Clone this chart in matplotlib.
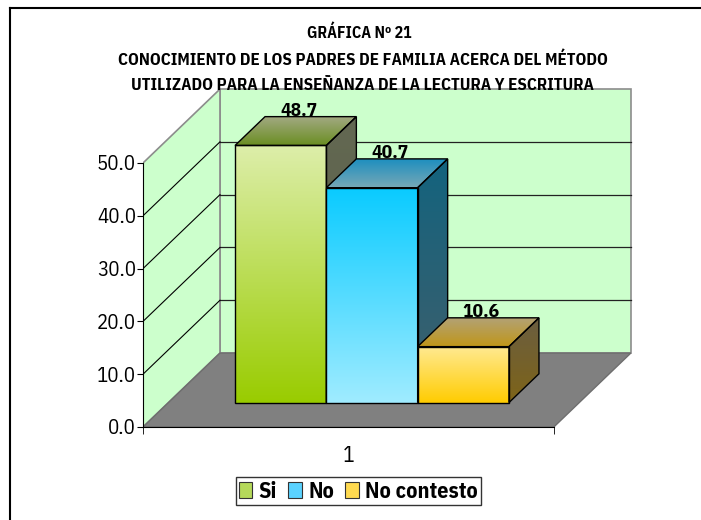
import numpy as np
import matplotlib
matplotlib.use('Agg')
import matplotlib.pyplot as plt
from matplotlib.patches import Polygon, Patch
from matplotlib.lines import Line2D
from matplotlib.colors import LinearSegmentedColormap

# datos
categorias = ['Si', 'No', 'No contesto']
valores = [48.7, 40.7, 10.6]
etiqueta_x = ['1']
ticks_y = [0, 10, 20, 30, 40, 50]

titulo = ['GRÁFICA Nº 21',
          'CONOCIMIENTO DE LOS PADRES DE FAMILIA ACERCA DEL MÉTODO',
          'UTILIZADO PARA LA ENSEÑANZA DE LA LECTURA Y ESCRITURA']

# colores (cara frontal arriba/abajo, cara superior fondo/frente, lateral arriba/abajo)
col_frente = [('#DDEEAA', '#99CC00'), ('#0ACBFF', '#A0ECFF'), ('#FFE990', '#FFCC00')]
col_arriba = [('#A3AA84', '#6B8E23'), ('#1E8FBF', '#78A8B6'), ('#B3A274', '#C09618')]
col_lado = [('#636852', '#5A6048'), ('#13637E', '#415F6B'), ('#6B5E40', '#7E6418')]
col_leyenda = ['#B5D95A', '#5AD2FF', '#FFDA50']

# fuente angosta parecida a Arial Narrow
plt.rcParams['font.family'] = ['IBM Plex Sans Condensed', 'Liberation Sans', 'DejaVu Sans']

fig = plt.figure(figsize=(7.01, 5.20), dpi=100)
ax = fig.add_axes([143 / 701, 93 / 520, 507 / 701, 347 / 520])
ax.patch.set_alpha(0)

# geometria del "3D"
ancho_piso = 4.5
dx, dy = 0.843, 14.0       # profundidad total
f1, f2 = 0.33, 0.72        # profundidad de las barras
x_ini = 0.73
ymax = ticks_y[-1]


def cara_degradada(verts, c_sup, c_inf, z):
    poly = Polygon(verts, closed=True, facecolor='none', edgecolor='black', lw=1, zorder=z + 0.5)
    ax.add_patch(poly)
    xs = [v[0] for v in verts]
    ys = [v[1] for v in verts]
    cmap = LinearSegmentedColormap.from_list('g', [c_inf, c_sup])
    grad = np.linspace(0, 1, 256).reshape(-1, 1)
    im = ax.imshow(grad, cmap=cmap, extent=[min(xs), max(xs), min(ys), max(ys)],
                   origin='lower', aspect='auto', zorder=z, interpolation='bilinear')
    im.set_clip_path(poly)


# paredes y piso
verde = '#CCFFCC'
gris = '#8C8C8C'
ax.add_patch(Polygon([(dx, dy), (ancho_piso + dx, dy), (ancho_piso + dx, ymax + dy), (dx, ymax + dy)],
                     facecolor=verde, edgecolor=gris, lw=1.2, zorder=1))
ax.add_patch(Polygon([(0, 0), (dx, dy), (dx, ymax + dy), (0, ymax)],
                     facecolor=verde, edgecolor=gris, lw=1.2, zorder=1))
ax.add_patch(Polygon([(0, 0), (ancho_piso, 0), (ancho_piso + dx, dy), (dx, dy)],
                     facecolor='#808080', edgecolor='#6E6E6E', lw=1, zorder=1.2))

for t in ticks_y[1:-1]:
    ax.plot([dx, ancho_piso + dx], [t + dy, t + dy], color='#222222', lw=0.9, zorder=1.1)
    ax.plot([0, dx], [t, t + dy], color='black', lw=0.8, zorder=1.1)

# barras
prof_x = (f2 - f1) * dx
prof_y = (f2 - f1) * dy
for i, (cat, v) in enumerate(zip(categorias, valores)):
    x0 = x_ini + i + f1 * dx
    y0 = f1 * dy
    z = 3 + i
    frente = [(x0, y0), (x0 + 1, y0), (x0 + 1, y0 + v), (x0, y0 + v)]
    arriba = [(x0, y0 + v), (x0 + 1, y0 + v), (x0 + 1 + prof_x, y0 + v + prof_y), (x0 + prof_x, y0 + v + prof_y)]
    lado = [(x0 + 1, y0), (x0 + 1 + prof_x, y0 + prof_y), (x0 + 1 + prof_x, y0 + v + prof_y), (x0 + 1, y0 + v)]
    cara_degradada(lado, col_lado[i][0], col_lado[i][1], z)
    cara_degradada(arriba, col_arriba[i][0], col_arriba[i][1], z + 0.1)
    cara_degradada(frente, col_frente[i][0], col_frente[i][1], z + 0.2)
    ax.annotate(f'{v:.1f}', (x0 + 0.5 + 0.6 * prof_x, y0 + v + prof_y), xytext=(0, 0.5),
                textcoords='offset points', ha='center', va='baseline',
                fontsize=14, fontweight='bold', zorder=10)

# ejes
ax.set_xlim(0, 507 / 91.3)
ax.set_ylim(0, 347 / 5.28)
for s in ['top', 'right']:
    ax.spines[s].set_visible(False)
ax.spines['left'].set_bounds(0, ymax)
ax.spines['bottom'].set_bounds(0, ancho_piso)
ax.spines['left'].set_zorder(2)
ax.spines['bottom'].set_zorder(2)
ax.set_yticks(ticks_y)
ax.set_yticklabels([f'{t:.1f}' for t in ticks_y])
ax.tick_params(axis='y', direction='out', length=4, pad=1, labelsize=15)
ax.set_xticks([ancho_piso / 2])
ax.set_xticklabels(etiqueta_x)
ax.set_xticks([0, ancho_piso], minor=True)
ax.tick_params(axis='x', which='major', length=0, pad=13, labelsize=15.5)
ax.tick_params(axis='x', which='minor', direction='out', length=5)

# titulo
for y, linea, xc, tam in zip([33, 60, 86], titulo, [359, 363, 362], [11.5, 12.2, 12.2]):
    fig.text(xc / 701, 1 - y / 520, linea, ha='center', va='center',
             fontsize=tam, fontweight='bold', zorder=20)

# leyenda
manijas = [Patch(facecolor=c, edgecolor='#333333', lw=0.8) for c in col_leyenda]
leg = fig.legend(manijas, categorias, loc='center', bbox_to_anchor=(358.5 / 701, 1 - 491 / 520),
                 ncol=3, frameon=True, fancybox=False, edgecolor='black',
                 prop={'size': 16, 'weight': 'bold'}, handlelength=0.6, handleheight=0.75,
                 handletextpad=0.3, columnspacing=0.5, borderpad=0.15, borderaxespad=0)
leg.get_frame().set_linewidth(1)

# marco del grafico
fig.add_artist(Line2D([10 / 701, 10 / 701], [0, 1 - 8 / 520], transform=fig.transFigure, color='black', lw=1.5))
fig.add_artist(Line2D([10 / 701, 1], [1 - 8 / 520, 1 - 8 / 520], transform=fig.transFigure, color='black', lw=1.5))

fig.savefig('out.png', dpi=100)
